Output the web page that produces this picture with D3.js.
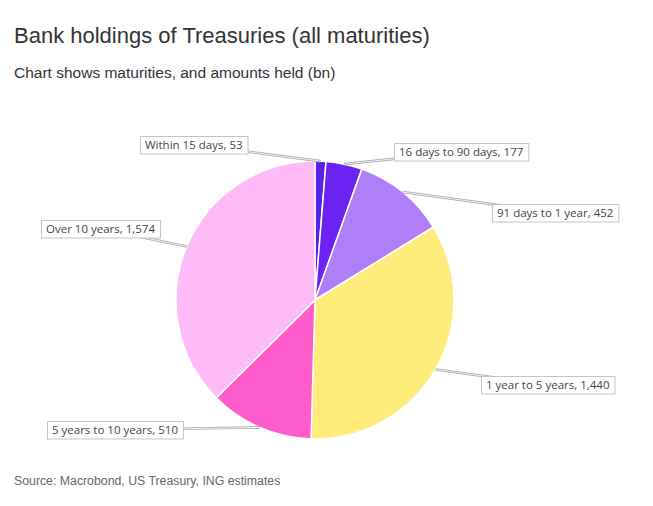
<!DOCTYPE html>
<html>
<head>
  <style>
    body {
      margin: 0;
      background: #fff;
      font-family: "Liberation Sans", Arial, sans-serif;
    }
    .title { font-size: 22px; fill: #333; }
    .subtitle { font-size: 15.5px; fill: #333; }
    .source { font-size: 12.3px; fill: #666; }
    .lbl text { font-family: "Open Sans", sans-serif; font-size: 11.5px; fill: #444; }
  </style>
</head>
<body>
<script src="https://d3js.org/d3.v7.min.js"></script>
<script>
  // Maturity buckets and amounts held (bn)
  const categories = ["Within 15 days", "16 days to 90 days", "91 days to 1 year",
    "1 year to 5 years", "5 years to 10 years", "Over 10 years"];
  const values = [53, 177, 452, 1440, 510, 1574];
  const colors = ["#5a1fe8", "#6c22f3", "#b07ef6", "#ffec7a", "#ff5ccb", "#ffbaf8"];

  // label box top-left corners (annotation layout), same order as categories
  const labelPos = [[140, 136], [394, 143], [492, 204], [481, 376], [47, 421], [41, 220]];

  const W = 653, H = 506;
  const cx = 315, cy = 300, r = 139;

  const svg = d3.select("body").append("svg")
    .attr("width", W)
    .attr("height", H);

  svg.append("text").attr("class", "title")
    .attr("x", 14).attr("y", 43)
    .text("Bank holdings of Treasuries (all maturities)");
  svg.append("text").attr("class", "subtitle")
    .attr("x", 14).attr("y", 78)
    .text("Chart shows maturities, and amounts held (bn)");
  svg.append("text").attr("class", "source")
    .attr("x", 14).attr("y", 485)
    .text("Source: Macrobond, US Treasury, ING estimates");

  const data = categories.map((c, i) => ({ name: c, value: values[i], color: colors[i], pos: labelPos[i] }));

  const pie = d3.pie().value(d => d.value).sort(null);
  const arcs = pie(data);
  const arc = d3.arc().innerRadius(0).outerRadius(r);

  const g = svg.append("g").attr("transform", `translate(${cx},${cy})`);

  g.selectAll("path.slice")
    .data(arcs)
    .join("path")
    .attr("class", "slice")
    .attr("d", arc)
    .attr("fill", d => d.data.color)
    .attr("stroke", "#fff")
    .attr("stroke-width", 1.5);

  // labels with connectors
  const labels = svg.append("g");
  arcs.forEach(d => {
    const mid = (d.startAngle + d.endAngle) / 2;
    const px = cx + r * Math.sin(mid);
    const py = cy - r * Math.cos(mid);

    const lg = labels.append("g").attr("class", "lbl");
    const txt = lg.append("text")
      .attr("x", d.data.pos[0] + 5)
      .attr("y", d.data.pos[1] + 13)
      .text(`${d.data.name}, ${d3.format(",")(d.data.value)}`);
    const tw = txt.node().getComputedTextLength();
    const bw = tw + 10, bh = 17.5;
    const bx = d.data.pos[0], by = d.data.pos[1];

    const ex = bx + bw / 2, ey = by + bh / 2;
    lg.insert("line", "text")
      .attr("x1", px).attr("y1", py).attr("x2", ex).attr("y2", ey)
      .attr("stroke", "#a8a8a8").attr("stroke-width", 2.6);
    lg.insert("line", "text")
      .attr("x1", px).attr("y1", py).attr("x2", ex).attr("y2", ey)
      .attr("stroke", "#f2f2f2").attr("stroke-width", 1);
    lg.insert("rect", "text")
      .attr("x", bx + 0.5).attr("y", by + 0.5)
      .attr("width", bw).attr("height", bh)
      .attr("fill", "#fff")
      .attr("stroke", "#c4c4c4")
      .attr("stroke-width", 1);
  });
</script>
</body>
</html>
